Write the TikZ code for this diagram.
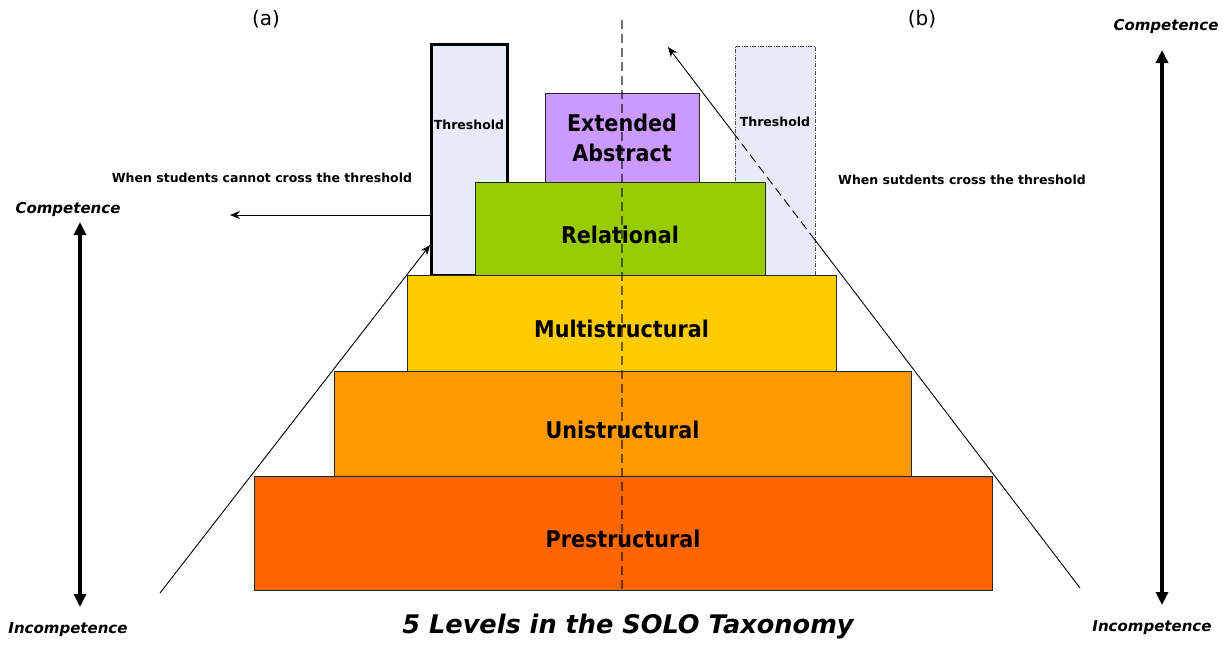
\documentclass[tikz,border=0pt]{standalone}
\usepackage{fontspec}
\setmainfont{DejaVu Sans}
\newfontfamily\condb{DejaVu Sans Condensed Bold}
\usetikzlibrary{arrows.meta,calc}
\definecolor{cpre}{HTML}{FF6600}
\definecolor{cuni}{HTML}{FF9900}
\definecolor{cmul}{HTML}{FFCC00}
\definecolor{crel}{HTML}{99CC00}
\definecolor{cext}{HTML}{CC99FF}
\definecolor{cthr}{HTML}{E6ECF7}
\begin{document}
\begin{tikzpicture}[x=1pt,y=-1pt,
  levelbase/.style={draw=black!85,line width=1pt,inner sep=0pt,font=\condb\fontsize{23}{29}\selectfont},
  level/.style={levelbase,text height=29pt,text depth=0pt},
  thrbox/.style={fill=cthr,inner sep=0pt},
  small/.style={font=\bfseries\fontsize{12.5}{14}\selectfont,inner sep=0pt},
  comp/.style={font=\bfseries\itshape\fontsize{15}{17}\selectfont,inner sep=0pt},
  bigarrow/.style={line width=3.5pt,{Triangle[length=13pt,width=12pt]}-{Triangle[length=13pt,width=12pt]}},
  thinarrow/.style={line width=0.9pt,-{Stealth[length=10pt,width=8pt]}},
  axisline/.style={draw=black,line width=1.4pt,opacity=0.55,dash pattern=on 9pt off 5pt}]
\useasboundingbox (0,0) rectangle (1231,645);
% thresholds
\node (thA) [thrbox,draw=black,line width=3pt,minimum width=76pt,minimum height=231pt] at (469,159.5) {};
\node (thB) [thrbox,draw=black!70,line width=0.8pt,dash pattern=on 4pt off 1.5pt on 1pt off 1.5pt,minimum width=80pt,minimum height=229pt] at (775,160.5) {};
\node (thAt) [small] at (469,125) {Threshold};
\node (thBt) [small] at (775,122) {Threshold};
% levels
\node (pre) [level,fill=cpre,minimum width=738pt,minimum height=114pt] at (623,533) {Prestructural};
\node (uni) [level,fill=cuni,minimum width=577pt,minimum height=105pt] at (622.5,423.5) {Unistructural};
\node (mul) [level,fill=cmul,minimum width=429pt,minimum height=96pt] at (621.5,323) {Multistructural};
\node (rel) [level,fill=crel,minimum width=290pt,minimum height=93pt] at (620,228.5) {Relational};
\node (ext) [levelbase,fill=cext,minimum width=154pt,minimum height=89pt,align=center,font=\condb\fontsize{23}{30}\selectfont] at (622,137.5) {Extended\\Abstract};
% centre axis
\coordinate (axtop) at (622,20);
\draw[axisline] (axtop) -- (axtop |- pre.south);
% labels
\node (la) [font=\fontsize{20}{24}\selectfont] at (266,19) {(a)};
\node (lb) [font=\fontsize{20}{24}\selectfont] at (922,19) {(b)};
\node (cannot) [small] at (262,178) {When students cannot cross the threshold};
\node (cross) [small] at (962,180) {When sutdents cross the threshold};
\node (title) [font=\bfseries\itshape\fontsize{25.6}{30}\selectfont] at (628,627) {5 Levels in the SOLO Taxonomy};
% left side
\coordinate (aend) at (230,215);
\draw[thinarrow] (thA.west |- aend) -- (aend);
\coordinate (lbot) at (160,593);
\coordinate (ltip) at (430,245);
\draw[thinarrow] (lbot) -- (ltip);
\node (compL) [comp] at (68,209) {Competence};
\node (incL) [comp] at (68,630) {Incompetence};
\coordinate (lat) at (80,222);
\coordinate (lab) at (80,607);
\draw[bigarrow] (lat) -- (lab);
% right side
\coordinate (rbot) at (1080,588);
\coordinate (rtip) at (668,47);
\coordinate (rin) at ($(rbot)!0.6432!(rtip)$);
\coordinate (rout) at ($(rbot)!0.8374!(rtip)$);
\draw[line width=0.9pt] (rbot) -- (rin);
\draw[line width=0.9pt,dash pattern=on 9pt off 5pt] (rin) -- (rout);
\draw[thinarrow] (rout) -- (rtip);
\node (compR) [comp] at (1166,26) {Competence};
\node (incR) [comp] at (1152,628) {Incompetence};
\coordinate (rat) at (1162,50);
\coordinate (rab) at (1162,605);
\draw[bigarrow] (rat) -- (rab);
\end{tikzpicture}
\end{document}
